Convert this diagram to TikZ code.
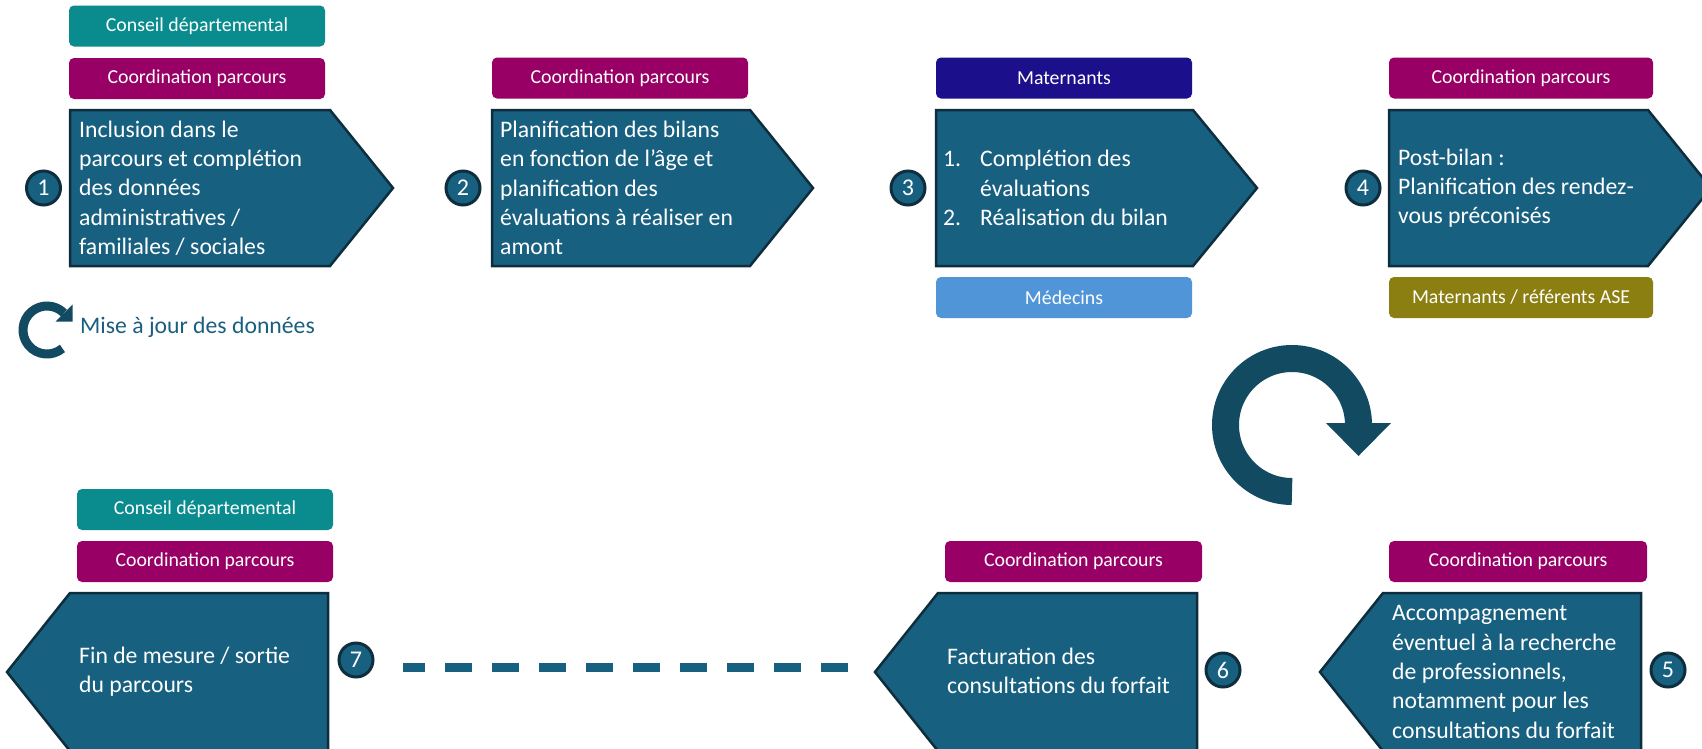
\documentclass[tikz,border=0pt]{standalone}
\usepackage{fontspec}
\setmainfont{Carlito}
\definecolor{pentfill}{HTML}{186080}
\definecolor{pentline}{HTML}{0F2E3D}
\definecolor{cdteal}{HTML}{0A8C8F}
\definecolor{cpmag}{HTML}{990066}
\definecolor{matind}{HTML}{1C0F8C}
\definecolor{medblue}{HTML}{4F95D8}
\definecolor{aseolive}{HTML}{8C7F12}
\definecolor{arrowcol}{HTML}{124A62}
\definecolor{misecol}{HTML}{1B5F80}
\tikzset{
  lab/.style={rounded corners=5pt, inner sep=0pt, text=white, minimum height=41pt,
    font=\fontsize{19.8pt}{23pt}\selectfont},
  pent/.style={fill=pentfill, draw=pentline, line width=2.5pt, line join=miter},
  bodytxt/.style={text=white, align=left, inner sep=0pt, anchor=west,
    font=\fontsize{23.7pt}{29.3pt}\selectfont},
  numc/.style={circle, draw=pentline, line width=3pt, fill=pentfill, minimum size=34pt,
    inner sep=0pt, text=white, font=\fontsize{24pt}{24pt}\selectfont},
  dashconn/.style={line width=9pt, draw=pentfill, dash pattern=on 27pt off 20pt, dash phase=5pt},
  ringarrow/.style={draw=arrowcol}
}
\begin{document}
\begin{tikzpicture}[x=1pt,y=1pt]
\useasboundingbox (0,0) rectangle (1702,-748);
\fill[white] (0,0) rectangle (1702,-748);
\clip (0,0) rectangle (1702,-748);

% ---------- labels ----------
\node[lab, fill=cdteal, minimum width=256pt] (cd1) at (197,-26) {Conseil départemental};
\node[lab, fill=cpmag, minimum width=256pt] (cp1) at (197,-78.5) {Coordination parcours};
\node[lab, fill=cpmag, minimum width=256pt] (cp2) at (620,-78) {Coordination parcours};
\node[lab, fill=matind, minimum width=256pt] (mat3) at (1064,-78) {Maternants};
\node[lab, fill=medblue, minimum width=256pt] (med3) at (1064,-297.5) {Médecins};
\node[lab, fill=cpmag, minimum width=264pt] (cp4) at (1521,-78) {Coordination parcours};
\node[lab, fill=aseolive, minimum width=264pt] (ase4) at (1521,-297.5) {Maternants / référents ASE};
\node[lab, fill=cdteal, minimum width=256pt] (cd7) at (205,-509.5) {Conseil départemental};
\node[lab, fill=cpmag, minimum width=256pt] (cp7) at (205,-561.5) {Coordination parcours};
\node[lab, fill=cpmag, minimum width=257pt] (cp6) at (1073.5,-561.5) {Coordination parcours};
\node[lab, fill=cpmag, minimum width=258pt] (cp5) at (1518,-561.5) {Coordination parcours};

% ---------- pentagons ----------
\path[pent] (70,-110) -- (330,-110) -- (393,-188) -- (330,-266) -- (70,-266) -- cycle;
\path[pent] (492,-110) -- (750,-110) -- (813,-188) -- (750,-266) -- (492,-266) -- cycle;
\path[pent] (936,-110) -- (1193,-110) -- (1257,-188) -- (1193,-266) -- (936,-266) -- cycle;
\path[pent] (1389,-110) -- (1648,-110) -- (1711,-188) -- (1648,-266) -- (1389,-266) -- cycle;
\path[pent] (1320,-672) -- (1383,-593) -- (1641,-593) -- (1641,-751) -- (1383,-751) -- cycle;
\path[pent] (875,-672) -- (938,-593) -- (1197,-593) -- (1197,-751) -- (938,-751) -- cycle;
\path[pent] (7,-672) -- (70,-593) -- (328,-593) -- (328,-751) -- (70,-751) -- cycle;
\coordinate (p6tip) at (875,-667);

% ---------- texts ----------
\node[bodytxt] (t1) at (79,-188) {Inclusion dans le\\parcours et complétion\\des données\\administratives /\\familiales / sociales};
\node[bodytxt] (t2) at (500,-188) {Planification des bilans\\en fonction de l’âge et\\planification des\\évaluations à réaliser en\\amont};
\node[bodytxt] (t3) at (943,-188) {\makebox[37pt][l]{1.}Complétion des\\\hspace*{37pt}évaluations\\\makebox[37pt][l]{2.}Réalisation du bilan};
\node[bodytxt] (t4) at (1398,-188) {Post-bilan :\\Planification des rendez-\\vous préconisés};
\node[bodytxt] (t5) at (1392,-672) {Accompagnement\\éventuel à la recherche\\de professionnels,\\notamment pour les\\consultations du forfait};
\node[bodytxt] (t6) at (947,-671) {Facturation des\\consultations du forfait};
\node[bodytxt] (t7) at (79,-672) {Fin de mesure / sortie\\du parcours};

% ---------- number circles ----------
\node[numc] (c1) at (43.5,-188) {1};
\node[numc] (c2) at (463,-188) {2};
\node[numc] (c3) at (908,-188) {3};
\node[numc] (c4) at (1363,-188) {4};
\node[numc] (c5) at (1668,-670) {5};
\node[numc] (c6) at (1223,-670) {6};
\node[numc] (c7) at (356,-660) {7};

% ---------- dashed connector ----------
\coordinate (dstart) at (403,-667);
\draw[dashconn] (dstart) -- ([xshift=-24pt]p6tip);

% ---------- small circular arrow ----------
\coordinate (sc) at (47,-330);
\draw[ringarrow, line width=9pt] (sc) ++(-50:24pt) arc[start angle=-50, end angle=-315, radius=24pt];
\fill[arrowcol] (55.5,-321.5) -- (72.5,-304.5) -- (72.5,-321.5) -- cycle;
\node[anchor=west, inner sep=0pt, text=misecol, font=\fontsize{23.7pt}{29pt}\selectfont] (mise) at (80,-327) {Mise à jour des données};

% ---------- big circular arrow ----------
\coordinate (bc) at (1292,-425);
\draw[ringarrow, line width=27pt] (bc) ++(270:66.5pt) arc[start angle=270, end angle=0, radius=66.5pt];
\fill[arrowcol] (1326,-423) -- (1391,-423) -- (1358.5,-456) -- cycle;
\end{tikzpicture}
\end{document}
